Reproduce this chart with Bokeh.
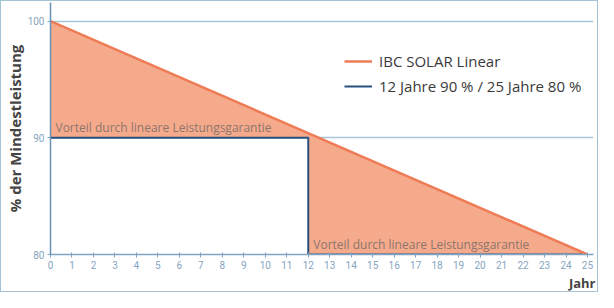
from bokeh.plotting import figure
from bokeh.layouts import column
from bokeh.models import Range1d, FixedTicker, Legend, LegendItem, Title
from bokeh.core.properties import value
from bokeh.embed import file_html
from bokeh.resources import INLINE

# ---- data ----
years = list(range(26))                       # x tick labels 0..25
linear_years = [0, 25]
linear_pct = [100, 80]                        # IBC SOLAR Linear
guarantee_years = [0, 12, 12, 25]
guarantee_pct = [90, 90, 80, 80]              # 12 Jahre 90 % / 25 Jahre 80 %
y_ticks = [80, 90, 100]
note_years = [0, 12]
note_pct = [90, 80]
note_text = ["Vorteil durch lineare Leistungsgarantie",
             "Vorteil durch lineare Leistungsgarantie"]
series_names = ["IBC SOLAR Linear", "12 Jahre 90 % / 25 Jahre 80 %"]
x_title = "Jahr"
y_title = "% der Mindestleistung"

FONT = "Open Sans"
TFONT = "Roboto"
ORANGE_FILL = "#F6AA8C"
ORANGE_LINE = "#EE7C56"
BLUE = "#27507F"
AXIS = "#7FA3C1"
TICKTXT = "#86A5BF"
DARK = "#444444"

p = figure(width=596, height=290, output_backend="svg", toolbar_location=None,
           x_range=Range1d(0, 25.28), y_range=Range1d(80, 101.6),
           min_border_left=47, min_border_right=4, min_border_top=1,
           min_border_bottom=0)
p.outline_line_color = None
p.background_fill_color = "white"
p.border_fill_color = "white"

# advantage area between the linear line and the step guarantee
p.patch(x=linear_years + guarantee_years[::-1],
        y=linear_pct + guarantee_pct[::-1],
        fill_color=ORANGE_FILL, line_color=None)

g = p.line(guarantee_years, guarantee_pct, line_color=BLUE, line_width=2)
l = p.line(linear_years, linear_pct, line_color=ORANGE_LINE, line_width=2.5)

p.text(x=note_years, y=note_pct, text=note_text, x_offset=5, y_offset=-2,
       text_baseline="bottom", text_align="left",
       text_font=value(FONT), text_font_size="12px", text_color="#8C766C")

# axes
p.xaxis.ticker = FixedTicker(ticks=years)
p.yaxis.ticker = FixedTicker(ticks=y_ticks)
p.xgrid.visible = False
p.ygrid.grid_line_color = "#A9C6D9"
p.ygrid.grid_line_width = 1.5

for ax in (p.xaxis[0], p.yaxis[0]):
    ax.axis_line_color = AXIS
    ax.axis_line_width = 1.5
    ax.major_tick_line_color = AXIS
    ax.major_tick_out = 3
    ax.major_tick_in = 2
    ax.minor_tick_line_color = None
    ax.major_label_text_font = TFONT
    ax.major_label_text_font_size = "10px"
    ax.major_label_text_color = TICKTXT

p.yaxis.axis_line_color = "#6791B6"
p.xaxis.major_label_standoff = 3
p.yaxis.major_label_standoff = 3
p.yaxis.major_tick_in = 0
p.yaxis.axis_label = y_title
p.yaxis.axis_label_text_font = FONT
p.yaxis.axis_label_text_font_size = "15px"
p.yaxis.axis_label_text_font_style = "bold"
p.yaxis.axis_label_text_color = DARK
p.yaxis.axis_label_standoff = 0

p.add_layout(Title(text=x_title, align="right", text_font=FONT, text_font_size="13px",
                   text_font_style="bold", text_color=DARK, standoff=0,
                   offset=-2), "below")

legend = Legend(items=[LegendItem(label=series_names[0], renderers=[l]),
                       LegendItem(label=series_names[1], renderers=[g])],
                location=(294, 158), padding=0, margin=0, spacing=5,
                glyph_width=28, label_standoff=7,
                label_text_font=FONT, label_text_font_size="15px",
                label_text_color="#3A3A3A",
                background_fill_alpha=0, border_line_color=None)
p.add_layout(legend)

page = column(p, styles={"border": "1.5px solid #A6C3D6"})

open("out.html", "w").write(file_html(page, INLINE))
